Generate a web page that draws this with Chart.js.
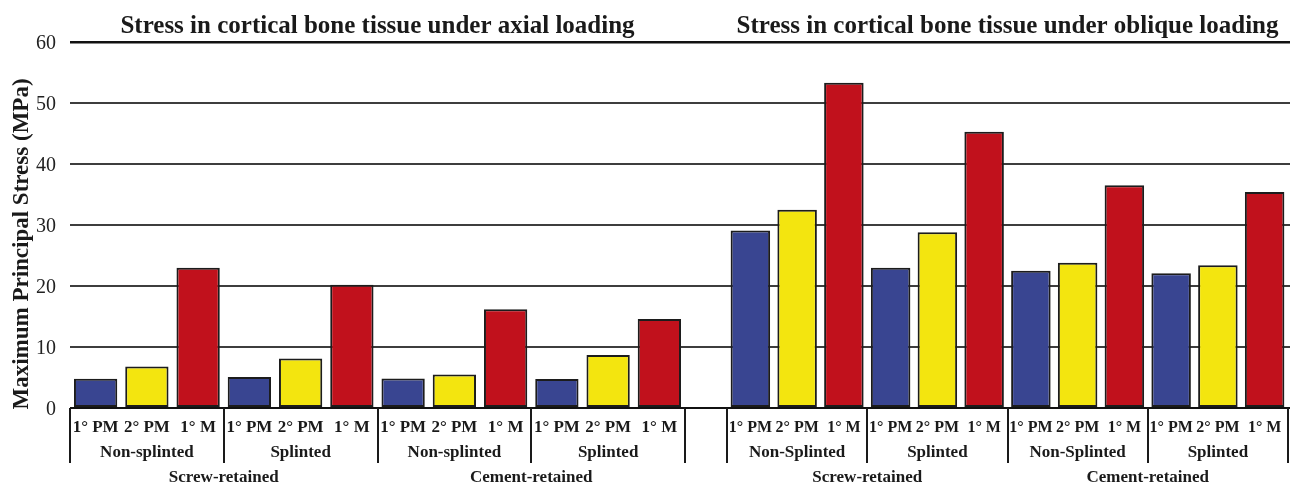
<!DOCTYPE html>
<html>
<head>
<meta charset="utf-8">
<script src="https://cdn.jsdelivr.net/npm/chart.js@4.4.1/dist/chart.umd.min.js"></script>
<style>
  html, body { margin: 0; padding: 0; background: #fff; }
  #wrap { position: relative; width: 1290px; height: 486px; overflow: hidden; background: #fff; }
  #wrap canvas { position: absolute; top: 0; }
  #axial { left: 0; }
  #oblique { left: 685px; }
</style>
</head>
<body>
<div id="wrap">
  <canvas id="axial" width="690" height="486"></canvas>
  <canvas id="oblique" width="605" height="486"></canvas>
</div>
<script>
// Labels
const teeth = ['1° PM', '2° PM', '1° M'];
const axialGroups = ['Non-splinted', 'Splinted', 'Non-splinted', 'Splinted'];
const obliqueGroups = ['Non-Splinted', 'Splinted', 'Non-Splinted', 'Splinted'];
const retention = ['Screw-retained', 'Cement-retained'];
const yTicks = [0, 10, 20, 30, 40, 50, 60];
const yTitle = 'Maximum Principal Stress (MPa)';

// Maximum principal stress (MPa), one value per splinting group
const axialPM1 = [4.8, 5.1, 4.85, 4.75];
const axialPM2 = [6.8, 8.1, 5.5, 8.7];
const axialM1 = [23.0, 20.2, 16.2, 14.6];
const obliquePM1 = [29.1, 23.0, 22.5, 22.1];
const obliquePM2 = [32.5, 28.8, 23.8, 23.4];
const obliqueM1 = [53.3, 45.3, 36.5, 35.4];

const toothColors = ['#394591', '#f3e50f', '#c1111c'];
const SERIF = '"Liberation Serif", "Times New Roman", serif';
const INK = '#1a1a1a';

Chart.defaults.font.family = SERIF;
Chart.defaults.color = INK;

function gridStroke(v) { return (v === 0 || v === 60) ? '#111' : '#3d3d3d'; }
function gridWidth(v) { return v === 60 ? 2.5 : 2; }
function alignPixel(p, w) { return Math.round(p - w / 2) + w / 2; }

// Tooth labels under each bar, bracket lines, and retention-type captions
const bottomLabels = {
  id: 'bottomLabels',
  afterDraw(chart, args, opts) {
    const { ctx, chartArea, scales: { x } } = chart;
    const n = x.getLabels().length;
    const slot = (x.right - x.left) / n;
    const base = chartArea.bottom;
    ctx.save();
    ctx.strokeStyle = INK;
    ctx.lineWidth = 2;
    ctx.beginPath();
    for (let i = 0; i <= n; i++) {
      const px = Math.round(i < n ? x.getPixelForValue(i) - slot / 2 : x.getPixelForValue(n - 1) + slot / 2);
      ctx.moveTo(px, base);
      ctx.lineTo(px, base + 55);
    }
    ctx.stroke();

    ctx.fillStyle = INK;
    ctx.textAlign = 'center';
    ctx.textBaseline = 'middle';
    ctx.font = 'bold ' + (opts.toothSize || 17) + 'px ' + SERIF;
    chart.data.datasets.forEach((ds, di) => {
      chart.getDatasetMeta(di).data.forEach(bar => {
        ctx.fillText(ds.label, bar.x, base + 20);
      });
    });
    ctx.font = 'bold 17px ' + SERIF;
    retention.forEach((name, r) => {
      const cx = (x.getPixelForValue(2 * r) + x.getPixelForValue(2 * r + 1)) / 2;
      ctx.fillText(name, cx, base + 70);
    });
    ctx.restore();
  }
};

// Rotated value-axis caption
const axisCaption = {
  id: 'axisCaption',
  afterDraw(chart) {
    const { ctx, chartArea } = chart;
    ctx.save();
    ctx.translate(28, (chartArea.top + chartArea.bottom) / 2 + 19);
    ctx.rotate(-Math.PI / 2);
    ctx.fillStyle = INK;
    ctx.textAlign = 'center';
    ctx.textBaseline = 'alphabetic';
    ctx.font = 'bold 23px ' + SERIF;
    ctx.fillText(yTitle, 0, 0);
    ctx.restore();
  }
};

// Carries the horizontal grid across the blank space beside the oblique panel
const sideGrid = {
  id: 'sideGrid',
  beforeDatasetsDraw(chart) {
    const { ctx, chartArea, scales: { y } } = chart;
    ctx.save();
    y.ticks.forEach(t => {
      const w = gridWidth(t.value);
      const py = alignPixel(y.getPixelForValue(t.value), w);
      ctx.strokeStyle = gridStroke(t.value);
      ctx.lineWidth = w;
      ctx.beginPath();
      ctx.moveTo(0, py);
      ctx.lineTo(chartArea.left, py);
      ctx.moveTo(chartArea.right, py);
      ctx.lineTo(chart.width, py);
      ctx.stroke();
    });
    ctx.restore();
  }
};

function buildDatasets(pm1, pm2, m1) {
  return [pm1, pm2, m1].map((values, i) => ({
    label: teeth[i],
    data: values,
    backgroundColor: toothColors[i],
    borderColor: '#1c1c1c',
    borderWidth: 2,
    borderSkipped: false,
    categoryPercentage: 1,
    barPercentage: 0.845
  }));
}

function buildOptions(titleText, padding, showYAxis, toothSize) {
  return {
    responsive: false,
    animation: false,
    devicePixelRatio: 1,
    layout: { padding },
    plugins: {
      legend: { display: false },
      tooltip: { enabled: false },
      bottomLabels: { toothSize },
      title: {
        display: true,
        text: titleText,
        fullSize: false,
        color: INK,
        font: { size: 25, weight: 'bold', lineHeight: 1.2 },
        padding: { top: 0, bottom: 0 }
      }
    },
    scales: {
      x: {
        grid: { display: false },
        border: { display: false },
        ticks: {
          font: { size: 17, weight: 'bold' },
          color: INK,
          padding: 26,
          autoSkip: false,
          maxRotation: 0
        },
        afterFit: s => { s.height = 78; }
      },
      y: {
        min: 0,
        max: 60,
        afterBuildTicks: s => { s.ticks = yTicks.map(v => ({ value: v })); },
        grid: {
          drawTicks: false,
          color: c => gridStroke(c.tick ? c.tick.value : -1),
          lineWidth: c => gridWidth(c.tick ? c.tick.value : -1)
        },
        border: { display: false },
        ticks: { display: showYAxis, font: { size: 20 }, color: '#222', padding: 14, labelOffset: 2 },
        afterFit: s => { s.width = showYAxis ? 70 : 0; }
      }
    }
  };
}

new Chart(document.getElementById('axial'), {
  type: 'bar',
  data: { labels: axialGroups, datasets: buildDatasets(axialPM1, axialPM2, axialM1) },
  options: buildOptions('Stress in cortical bone tissue under axial loading',
    { top: 12, right: 5, bottom: 0, left: 0 }, true, 17),
  plugins: [bottomLabels, axisCaption]
});

new Chart(document.getElementById('oblique'), {
  type: 'bar',
  data: { labels: obliqueGroups, datasets: buildDatasets(obliquePM1, obliquePM2, obliqueM1) },
  options: buildOptions('Stress in cortical bone tissue under oblique loading',
    { top: 12, right: 2, bottom: 0, left: 42 }, false, 16),
  plugins: [sideGrid, bottomLabels]
});
</script>
</body>
</html>
